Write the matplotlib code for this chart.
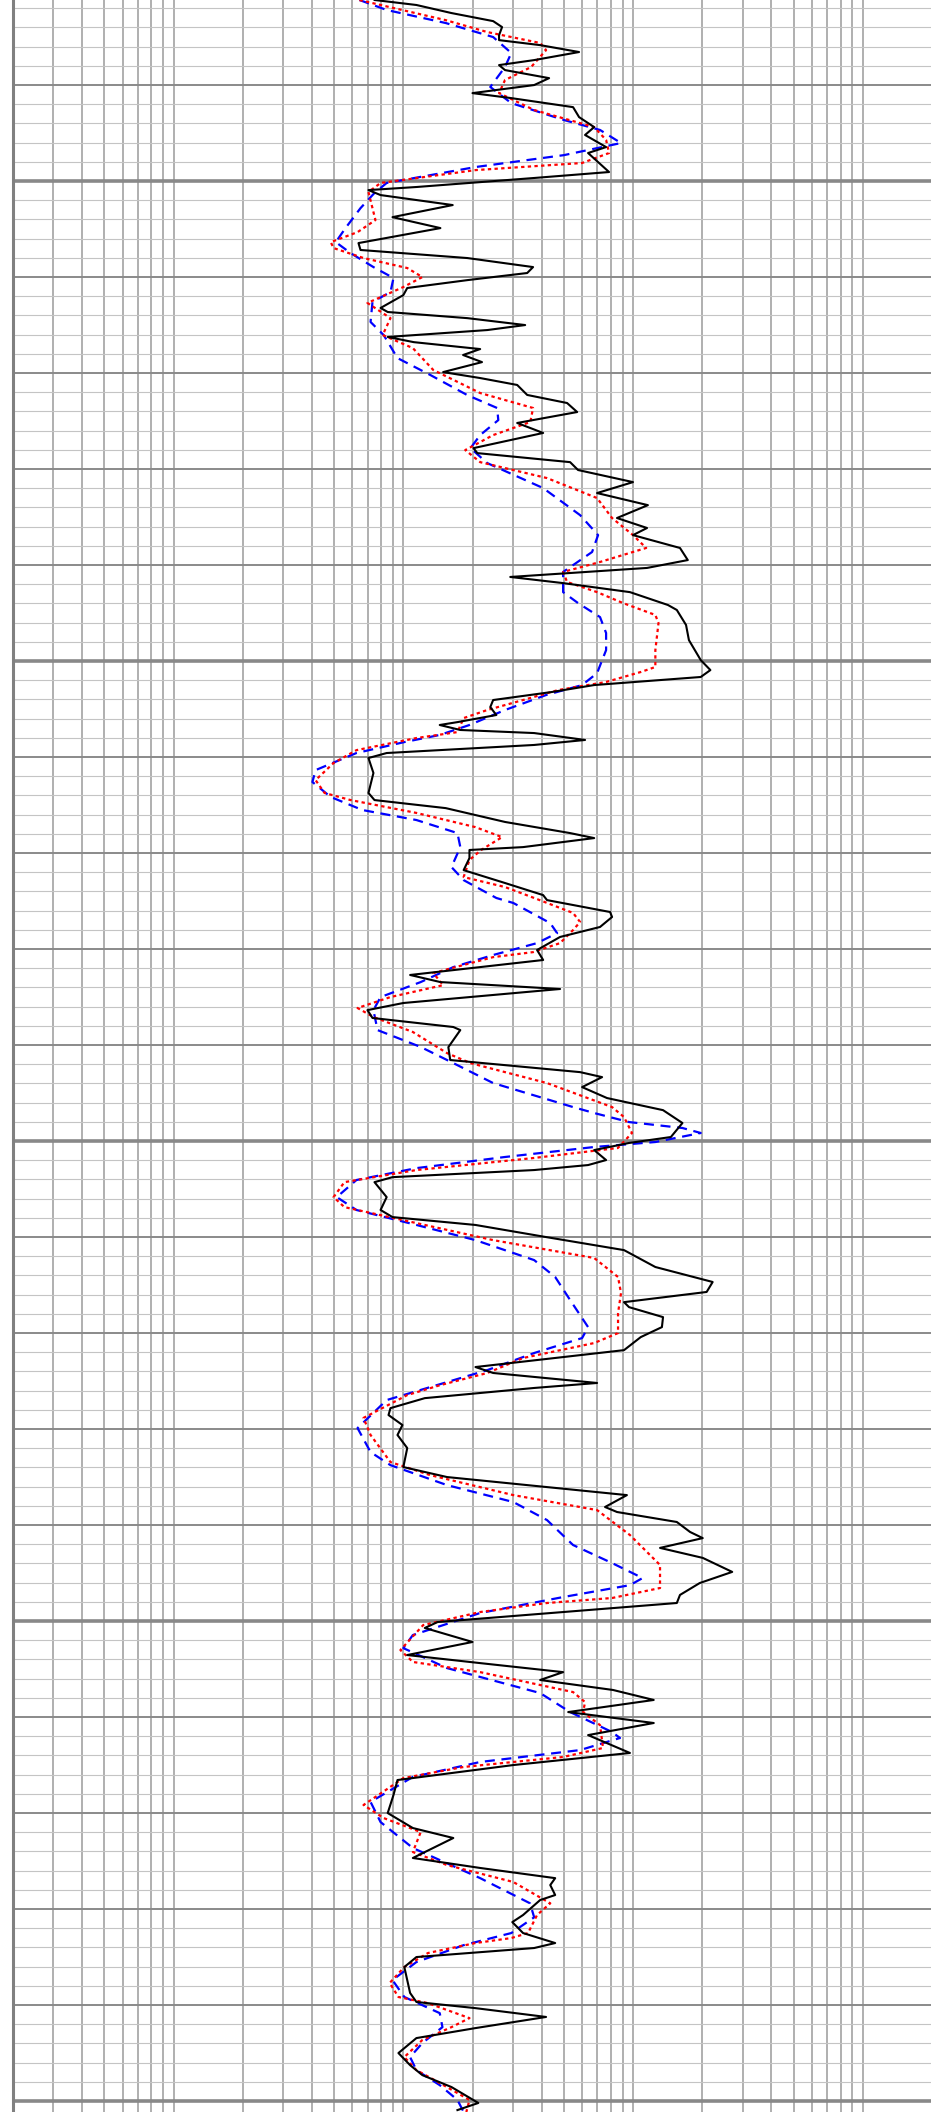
import matplotlib
matplotlib.use("Agg")
import matplotlib.pyplot as plt
from matplotlib.ticker import LogLocator, MultipleLocator, NullFormatter

# profondeur et resistivite
deep_black = [90.57, 90.83, 91.25, 91.67, 91.98, 92.40, 92.66, 92.92, 93.28, 93.70,
              93.96, 94.22, 94.64, 95.00, 95.42, 95.68, 96.15, 96.67, 97.19, 97.60,
              98.23, 98.54, 99.53, 99.84, 100.31, 100.47, 100.73, 101.25, 101.88, 102.45,
              103.23, 103.59, 104.01, 104.48, 104.79, 105.16, 105.57, 105.94, 106.61, 106.82,
              107.14, 107.50, 107.76, 108.12, 108.39, 108.75, 109.06, 109.43, 109.95, 110.26,
              110.62, 111.14, 111.56, 112.03, 112.60, 113.12, 113.91, 114.17, 114.64, 115.05,
              115.68, 116.25, 116.88, 117.55, 118.07, 118.44, 119.11, 119.74, 120.15, 120.62,
              120.94, 121.41, 122.08, 122.34, 123.12, 123.91, 124.95, 125.47, 125.83, 126.25,
              126.61, 127.03, 127.40, 127.81, 128.18, 128.33, 128.59, 128.75, 129.11, 129.37,
              129.79, 130.05, 130.83, 131.87, 132.24, 132.66, 133.38, 133.96, 134.22, 134.69,
              134.84, 135.26, 135.89, 136.56, 137.19, 137.45, 138.07, 138.33, 138.85, 139.37,
              140.05, 140.57, 141.35, 141.72, 142.08, 142.81, 143.18, 143.59, 144.06, 144.22,
              145.11, 145.78, 146.41, 146.67, 147.19, 147.76, 148.39, 149.06, 149.79, 150.10,
              150.47, 150.99, 151.25, 151.51, 151.88, 152.14, 152.92, 153.59, 153.96, 154.37,
              155.00, 155.68, 156.56, 157.34, 157.86, 158.39, 158.65, 159.17, 159.69, 160.21,
              160.89, 161.77, 162.08, 162.60, 162.86, 163.39, 163.91, 164.27, 164.79, 165.31,
              165.99, 166.98, 167.50, 168.02, 168.44, 169.06, 169.32, 169.84, 170.36, 170.68,
              171.19, 171.71, 172.44, 173.02, 173.64, 174.06, 175.05, 175.36, 176.09, 176.77,
              177.19, 177.66, 178.07, 178.59, 179.11, 179.74, 180.31, 180.94, 181.87, 182.50,
              183.28, 184.06, 185.00, 185.78, 186.30, 187.34, 187.86, 188.39, 188.75, 189.27,
              189.53, 190.31, 190.68, 191.25, 191.77, 192.03, 192.50, 193.02, 194.37, 194.84,
              195.16, 195.62, 196.20, 196.72, 197.50, 198.13, 198.65, 199.27, 200.10, 200.47]
res_black = [7.5, 11.4, 16.2, 24.6, 26.9, 26.1, 26.1, 39.4, 58.2, 37.1,
             26.1, 27.7, 43.1, 37.1, 20.0, 29.5, 54.8, 58.2, 67.7, 61.8,
             76.3, 63.7, 78.6, 37.1, 11.4, 7.05, 7.96, 16.4, 8.97, 14.5,
             6.38, 6.51, 19.0, 36.7, 34.6, 19.0, 10.4, 10.0, 7.96, 8.55,
             19.0, 33.9, 23.2, 8.55, 11.1, 21.6, 18.2, 22.0, 14.9, 21.6,
             31.3, 34.6, 51.6, 57.1, 31.3, 40.6, 20.2, 21.0, 53.2, 57.6,
             99.9, 69.7, 116, 85.1, 115, 99.9, 160, 173, 115, 29.2,
             49.6, 96.9, 141.8, 155, 170, 175, 197, 217, 197, 67.7,
             44.4, 24.6, 23.9, 25.4, 17.2, 14.4, 17.7, 37.1, 61.8, 37.1,
             8.46, 7.05, 7.41, 7.05, 7.49, 15.3, 27.7, 53.2, 67.7, 33.2,
             19.4, 19.4, 18.3, 27.7, 40.6, 42.2, 79.4, 81.0, 71.8, 48.1,
             38.2, 40.6, 10.7, 14.5, 48.1, 10.0, 6.98, 7.34, 16.5, 17.7,
             15.7, 16.0, 58.8, 73.3, 60.0, 77.0, 135, 164, 146, 96.0,
             67.7, 76.3, 63.7, 37.1, 8.97, 7.49, 8.46, 7.96, 8.97, 20.6,
             41.8, 91.3, 125, 222, 209, 91.3, 96.0, 135, 133.5, 108,
             91.3, 20.6, 24.6, 69.7, 37.1, 12.4, 8.79, 8.62, 9.91, 9.43,
             10.4, 10.0, 15.5, 42.2, 94.0, 75.5, 85.1, 155, 177, 201,
             131, 201, 270, 195, 160, 155, 14.1, 12.4, 20.0, 10.4,
             21.6, 49.6, 39.4, 81.8, 123, 52.2, 123, 63.7, 96.9, 30.1,
             9.43, 9.06, 8.55, 11.0, 16.5, 11.0, 21.6, 45.8, 43.6, 45.8,
             39.4, 33.2, 29.8, 33.2, 45.8, 37.1, 11.4, 10.1, 10.7, 11.4,
             20.6, 41.8, 20.6, 11.4, 9.52, 10.7, 12.1, 16.2, 21.2, 17.2]

deep_red = [90.57, 90.83, 91.62, 92.24, 92.81, 93.18, 94.06, 94.74, 95.42, 96.30,
            97.19, 97.86, 98.54, 99.06, 99.43, 100.10, 100.57, 102.03, 102.66, 103.18,
            103.49, 104.01, 104.53, 105.00, 105.52, 106.35, 107.14, 108.02, 108.70, 109.84,
            111.04, 111.82, 112.55, 113.23, 114.01, 114.64, 115.47, 116.51, 117.55, 118.44,
            119.11, 119.84, 120.36, 120.88, 121.41, 121.98, 122.60, 123.02, 124.43, 125.31,
            125.57, 126.09, 126.51, 127.03, 127.55, 127.97, 128.70, 129.01, 129.64, 130.31,
            131.20, 131.87, 132.24, 132.91, 133.65, 134.17, 134.84, 135.36, 136.25, 136.77,
            137.34, 138.12, 138.59, 139.01, 139.69, 140.16, 140.42, 141.25, 141.88, 142.50,
            143.07, 143.54, 144.32, 145.42, 145.94, 146.98, 148.23, 148.75, 149.58, 150.36,
            150.88, 151.51, 152.14, 152.92, 153.44, 154.27, 155.16, 156.09, 157.08, 157.92,
            158.96, 160.00, 160.52, 161.30, 162.08, 162.71, 163.23, 164.42, 165.31, 166.72,
            167.40, 168.44, 169.22, 170.52, 172.08, 173.28, 173.80, 174.06, 174.53, 175.21,
            176.51, 177.13, 177.66, 178.70, 179.22, 179.74, 180.42, 181.61, 182.08, 182.60,
            183.18, 184.58, 185.26, 185.99, 187.03, 187.71, 188.59, 189.70, 190.31, 191.25,
            191.51, 191.77, 192.29, 193.02, 193.85, 194.58, 194.90, 195.68, 196.15, 196.82,
            197.71, 198.39, 199.06, 199.94, 200.57]
res_red = [6.44, 7.96, 15.3, 23.2, 39.4, 41.8, 36.0, 27.7, 26.1, 37.1,
           67.7, 76.3, 78.6, 60.0, 20.6, 7.96, 7.05, 7.56, 6.32, 4.83,
           4.97, 6.71, 10.4, 12.1, 10.0, 6.98, 8.79, 8.13, 11.0, 13.5,
           21.6, 36.7, 35.7, 24.6, 18.6, 21.6, 42.2, 69.7, 81.0, 99.9,
           114, 71.8, 49.6, 51.6, 69.7, 90.4, 125, 129, 125, 125,
           108, 76.3, 47.2, 33.2, 23.2, 18.3, 17.2, 11.4, 6.25, 4.97,
           4.15, 4.54, 5.89, 11.4, 20.6, 26.9, 21.8, 19.4, 18.3, 27.7,
           37.1, 54.8, 58.8, 54.8, 48.1, 36.7, 24.6, 13.5, 14.9, 8.79,
           6.32, 7.41, 11.0, 15.5, 19.6, 42.2, 81.0, 91.3, 98.9, 85.9,
           37.1, 11.4, 5.54, 4.97, 5.54, 11.4, 24.6, 67.7, 86.0, 88.6,
           86.0, 86.0, 67.7, 33.2, 23.2, 14.5, 10.4, 6.71, 7.20, 8.79,
           13.1, 30.1, 69.7, 96.9, 131, 131, 81.0, 42.2, 21.6, 12.2,
           9.71, 11.0, 21.6, 54.8, 61.8, 60.6, 71.8, 74.0, 49.6, 18.3,
           10.0, 6.71, 8.21, 11.9, 11.0, 15.5, 30.1, 43.6, 38.2, 34.9,
           29.5, 20.6, 12.8, 10.1, 8.72, 9.52, 12.8, 19.4, 16.2, 12.1,
           10.1, 11.4, 14.4, 19.4, 18.8]

deep_blue = [90.57, 91.09, 91.77, 92.50, 93.33, 94.06, 95.10, 95.94, 96.82, 97.34,
             98.02, 98.65, 99.27, 100.10, 100.62, 101.41, 102.45, 103.18, 103.75, 104.48,
             105.05, 105.78, 106.30, 107.34, 108.02, 109.22, 110.10, 111.15, 111.82, 112.45,
             113.23, 113.91, 114.69, 115.99, 117.40, 118.44, 119.32, 120.36, 121.41, 121.98,
             122.71, 123.54, 124.43, 125.63, 126.25, 126.77, 127.55, 128.33, 128.85, 129.22,
             129.79, 130.68, 131.30, 132.08, 132.76, 133.28, 133.96, 134.69, 135.73, 136.41,
             137.34, 137.60, 138.65, 139.17, 139.69, 140.31, 140.94, 141.72, 142.50, 143.18,
             144.22, 145.10, 145.94, 146.98, 148.23, 148.54, 149.01, 149.32, 149.58, 150.05,
             150.31, 150.83, 151.41, 152.03, 152.92, 153.59, 154.37, 155.16, 156.20, 157.08,
             158.28, 159.69, 160.26, 161.04, 161.93, 163.49, 164.95, 166.20, 166.88, 167.92,
             168.80, 169.74, 171.04, 171.98, 172.76, 173.13, 173.75, 174.58, 175.73, 176.41,
             177.45, 178.75, 179.74, 180.78, 181.09, 181.72, 182.34, 183.12, 184.42, 185.47,
             186.82, 188.39, 189.70, 190.43, 191.25, 191.88, 192.76, 193.70, 194.58, 195.42,
             196.15, 196.98, 197.71, 198.39, 199.17, 199.94, 200.57]
res_blue = [6.44, 8.46, 15.3, 24.6, 29.5, 27.7, 23.9, 29.5, 50.0, 71.8,
            88.6, 50.0, 20.6, 8.46, 7.49, 6.51, 5.60, 5.08, 5.89, 7.41,
            9.06, 8.79, 7.34, 7.20, 8.21, 9.43, 13.1, 19.0, 25.6, 25.9,
            21.6, 19.6, 23.2, 40.6, 58.8, 70.4, 66.3, 49.6, 49.6, 57.6,
            71.8, 76.3, 76.3, 69.7, 60.0, 41.8, 27.7, 19.4, 14.4, 10.1,
            6.25, 4.15, 4.02, 4.83, 6.64, 11.4, 17.2, 17.7, 16.2, 18.3,
            25.4, 30.1, 43.6, 46.7, 38.2, 24.6, 16.5, 11.9, 7.96, 7.41,
            7.72, 11.9, 16.5, 24.6, 54.8, 67.7, 96.0, 164, 197, 125,
            67.7, 27.7, 11.4, 6.25, 5.13, 6.25, 11.4, 20.6, 37.1, 45.8,
            53.2, 63.7, 60.0, 37.1, 23.2, 8.46, 6.32, 7.20, 8.79, 15.5,
            30.1, 42.2, 54.8, 81.0, 110, 96.9, 49.6, 21.6, 11.0, 10.0,
            15.5, 39.4, 53.2, 81.0, 87.7, 58.8, 21.6, 11.0, 7.20, 7.96,
            11.0, 21.6, 35.6, 37.1, 29.5, 18.3, 11.4, 8.97, 10.1, 14.4,
            14.8, 12.1, 10.7, 11.4, 14.4, 17.2, 18.3]

# echelle de la piste
res_min, res_max = 0.2, 2000
top, bottom = 90.57, 200.57
traits_forts = [100, 125, 150, 175, 200]

fig = plt.figure(figsize=(9.31, 21.12), dpi=100)
ax = fig.add_axes([13 / 931, 0, 919 / 931, 1])

ax.set_xscale('log')
ax.set_xlim(res_min, res_max)
ax.set_ylim(bottom, top)

# grille log en x, grille de profondeur en y
ax.xaxis.set_major_locator(LogLocator(base=10, numticks=20))
ax.xaxis.set_minor_locator(LogLocator(base=10, subs=range(2, 10), numticks=50))
ax.xaxis.set_minor_formatter(NullFormatter())
ax.yaxis.set_major_locator(MultipleLocator(5))
ax.yaxis.set_minor_locator(MultipleLocator(1))
ax.grid(which='major', axis='x', color='#9a9a9a', lw=1.1)
ax.grid(which='minor', axis='x', color='#9a9a9a', lw=1.1)
ax.grid(which='major', axis='y', color='#8a8a8a', lw=1.4)
ax.grid(which='minor', axis='y', color='#c4c4c4', lw=0.8)
for d in traits_forts:
    ax.axhline(d, color='#888888', lw=2.6, zorder=1)
ax.set_axisbelow(True)
ax.tick_params(which='both', length=0, labelbottom=False, labelleft=False)

for s in ['top', 'right', 'bottom']:
    ax.spines[s].set_visible(False)
ax.spines['left'].set_color('#808080')
ax.spines['left'].set_linewidth(2.2)

# courbes
ax.plot(res_blue, deep_blue, color='blue', lw=1.6, ls=(0, (4.5, 3)), zorder=3)
ax.plot(res_red, deep_red, color='red', lw=1.6, ls=(0, (1.5, 1.5)), zorder=4)
ax.plot(res_black, deep_black, color='black', lw=1.5, zorder=5)

plt.savefig('out.png', dpi=100)
plt.close()
